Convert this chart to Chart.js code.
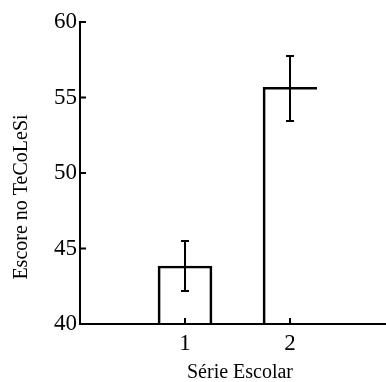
<!DOCTYPE html>
<html>
<head>
<meta charset="utf-8">
<script src="https://cdn.jsdelivr.net/npm/chart.js@4.4.0/dist/chart.umd.min.js"></script>
<style>
  html, body { margin: 0; padding: 0; background: #fff; }
  #wrap { width: 386px; height: 382px; }
</style>
</head>
<body>
<div id="wrap"><canvas id="serieChart"></canvas></div>
<script>
// Série Escolar vs. mean TeCoLeSi score, with error bars
const series = [1, 2];
const scores = [43.84, 55.68];
const errLow = [42.19, 53.44];
const errHigh = [45.5, 57.75];
const yTicks = [40, 45, 50, 55, 60];
const xTicks = [1, 2];
const yTitle = "Escore no TeCoLeSi";
const xTitle = "Série Escolar";

const serif = "'Liberation Serif', 'Times New Roman', serif";

// error bars, inward ticks and axis titles
const decorations = {
    id: 'decorations',
    afterDatasetsDraw(chart) {
        const ctx = chart.ctx;
        const x = chart.scales.x;
        const y = chart.scales.y;
        const area = chart.chartArea;
        ctx.save();
        ctx.strokeStyle = '#000';
        ctx.lineWidth = 2;
        ctx.beginPath();
        series.forEach((s, i) => {
            let px = x.getPixelForValue(s);
            let lo = y.getPixelForValue(errLow[i]);
            let hi = y.getPixelForValue(errHigh[i]);
            ctx.moveTo(px, lo); ctx.lineTo(px, hi);
            ctx.moveTo(px - 4, lo); ctx.lineTo(px + 4, lo);
            ctx.moveTo(px - 4, hi); ctx.lineTo(px + 4, hi);
        });
        y.ticks.forEach(t => {
            let py = y.getPixelForValue(t.value);
            ctx.moveTo(area.left, py); ctx.lineTo(area.left + 6, py);
        });
        x.ticks.forEach(t => {
            let px = x.getPixelForValue(t.value);
            ctx.moveTo(px, area.bottom); ctx.lineTo(px, area.bottom - 6);
        });
        ctx.stroke();

        ctx.fillStyle = '#000';
        ctx.font = "20px " + serif;
        ctx.textAlign = 'center';
        ctx.textBaseline = 'middle';
        ctx.fillText(xTitle, 240, 373);
        ctx.translate(22, 197);
        ctx.rotate(-Math.PI / 2);
        ctx.fillText(yTitle, 0, 0);
        ctx.restore();
    }
};

// one dataset per bar: the second bar has no right edge in the original
const datasets = series.map((s, i) => ({
    data: [{x: s, y: scores[i]}],
    base: i === 1 ? 39.88 : 40,
    backgroundColor: 'rgba(0,0,0,0)',
    borderColor: '#000',
    borderWidth: 2,
    borderSkipped: i === 1 ? 'right' : 'bottom',
    barThickness: 54,
    grouped: false,
}));

const ctx = document.getElementById('serieChart').getContext('2d');
const serieChart = new Chart(ctx, {
    type: 'bar',
    data: { datasets: datasets },
    options: {
        responsive: true,
        maintainAspectRatio: false,
        animation: false,
        layout: { padding: { top: 22, right: 0, left: 0, bottom: 0 } },
        scales: {
            x: {
                type: 'linear',
                offset: false,
                min: 0,
                max: 2.914,
                afterBuildTicks: (scale) => { scale.ticks = xTicks.map(v => ({value: v})); },
                afterFit: (scale) => { scale.height = 58; },
                ticks: {
                    color: '#000',
                    padding: 6,
                    font: { family: serif, size: 23 },
                    callback: (v) => String(v)
                },
                grid: { display: true, drawOnChartArea: false, drawTicks: false, offset: false },
                border: { display: true, color: '#000', width: 2 }
            },
            y: {
                min: 40,
                max: 60,
                afterBuildTicks: (scale) => { scale.ticks = yTicks.map(v => ({value: v})); },
                afterFit: (scale) => { scale.width = 80; },
                ticks: {
                    color: '#000',
                    padding: 3,
                    font: { family: serif, size: 23 },
                    callback: (v) => String(v)
                },
                grid: { display: true, drawOnChartArea: false, drawTicks: false },
                border: { display: true, color: '#000', width: 2 }
            }
        },
        plugins: {
            legend: { display: false },
            tooltip: { enabled: false }
        }
    },
    plugins: [decorations]
});
</script>
</body>
</html>
